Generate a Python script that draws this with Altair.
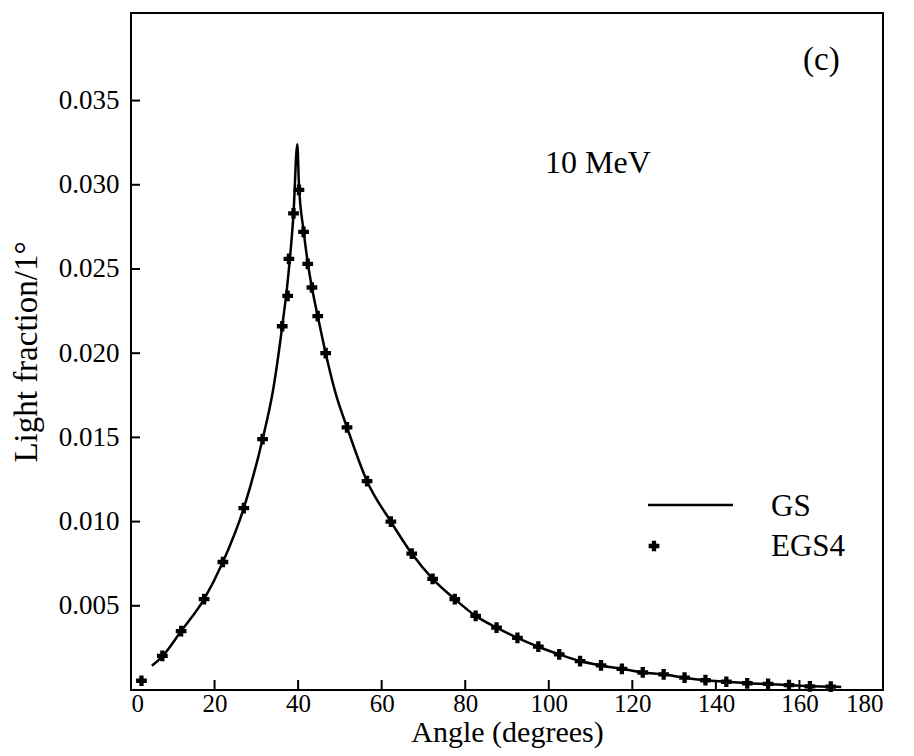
import altair as alt
import pandas as pd

# ---- data ----
x_ticks = [0, 20, 40, 60, 80, 100, 120, 140, 160, 180]
y_ticks = [0.005, 0.010, 0.015, 0.020, 0.025, 0.030, 0.035]

egs_angle = [2.5, 7.5, 12, 17.5, 22, 27, 31.5, 36.2, 37.5, 37.8, 38.9, 40.2, 41.3,
             42.3, 43.3, 44.7, 46.6, 51.7, 56.5, 62.2, 67.2, 72.2, 77.5, 82.5, 87.5,
             92.5, 97.5, 102.5, 107.5, 112.5, 117.5, 122.5, 127.5, 132.5, 137.5,
             142.5, 147.5, 152.5, 157.5, 162.5, 167.5]
egs_value = [0.00055, 0.00203, 0.0035, 0.0054, 0.0076, 0.0108, 0.0149, 0.0216, 0.0234,
             0.0256, 0.0283, 0.0297, 0.0272, 0.0253, 0.0239, 0.0222, 0.0200, 0.0156,
             0.0124, 0.0100, 0.0081, 0.0066, 0.0054, 0.0044, 0.0037, 0.0031, 0.00257,
             0.00212, 0.00172, 0.00146, 0.00126, 0.00104, 0.00093, 0.00073, 0.00058,
             0.00049, 0.00040, 0.00036, 0.00029, 0.00022, 0.00020]

gs_angle = [5, 7.5, 12, 17.5, 22, 27, 31.5, 34, 36.2, 37.6, 38.9, 39.8, 40.2, 41.3,
            42.3, 43.3, 44.7, 46.6, 49, 51.7, 56.5, 62.2, 67.2, 72.2, 77.5, 82.5, 87.5,
            92.5, 97.5, 102.5, 107.5, 112.5, 117.5, 122.5, 127.5, 132.5, 137.5, 142.5,
            147.5, 152.5, 157.5, 162.5, 167.5, 170]
gs_value = [0.00144, 0.0020, 0.0035, 0.0054, 0.0076, 0.0108, 0.0149, 0.0178, 0.0216,
            0.0245, 0.0283, 0.0324, 0.0300, 0.0273, 0.0254, 0.0239, 0.0222, 0.0200,
            0.0176, 0.0156, 0.0124, 0.0100, 0.0081, 0.0066, 0.0054, 0.0044, 0.0037,
            0.0031, 0.00257, 0.00212, 0.00172, 0.00146, 0.00126, 0.00104, 0.00093,
            0.00073, 0.00058, 0.00049, 0.00040, 0.00036, 0.00029, 0.00022, 0.00020,
            0.00018]

x_minor = x_ticks[1:-1]
y_minor = y_ticks

W, H = 752, 677
FONT = "Liberation Serif"

df_gs = pd.DataFrame({"angle": gs_angle, "value": gs_value})
df_egs = pd.DataFrame({"angle": egs_angle, "value": egs_value})
df_xt = pd.DataFrame({"angle": x_minor})
df_yt = pd.DataFrame({"value": y_minor})

xscale = alt.Scale(domain=[0, 180], nice=False, zero=False)
yscale = alt.Scale(domain=[0, 0.0402], nice=False, zero=False)

xaxis = alt.Axis(values=x_ticks, format="d", title="Angle (degrees)", ticks=False,
                 domain=False, grid=False, labelFont=FONT, labelFontSize=25,
                 labelPadding=1, labelColor="black", titleFont=FONT, titleFontSize=30,
                 titleFontWeight="normal", titleColor="black", titleY=42,
                 titleBaseline="middle")
yaxis = alt.Axis(values=y_ticks, format=".3f", title="Light fraction/1°", ticks=False,
                 domain=False, grid=False, labelFont=FONT, labelFontSize=27,
                 labelPadding=12, labelColor="black", titleFont=FONT, titleFontSize=33,
                 titleFontWeight="normal", titleColor="black", titleX=-105,
                 titleY=H / 2, titleBaseline="middle", titleAlign="center",
                 titleAngle=270)

X = alt.X("angle:Q", scale=xscale, axis=xaxis)
Y = alt.Y("value:Q", scale=yscale, axis=yaxis)

gs = alt.Chart(df_gs).mark_line(color="black", strokeWidth=2.5,
                                interpolate="monotone").encode(x=X, y=Y)
egs = alt.Chart(df_egs).mark_point(shape="cross", filled=True, color="black",
                                   size=115, opacity=1).encode(x=X, y=Y)

xt = alt.Chart(df_xt).mark_rule(color="black", strokeWidth=2).encode(
    x=X, y=alt.value(H), y2=alt.value(H - 10))
yt = alt.Chart(df_yt).mark_rule(color="black", strokeWidth=2).encode(
    y=Y, x=alt.value(0), x2=alt.value(9))

t_mev = alt.Chart(pd.DataFrame({"t": ["10 MeV"]})).mark_text(
    font=FONT, fontSize=32, align="left", baseline="middle", color="black").encode(
    x=alt.value(414), y=alt.value(150), text="t:N")
t_c = alt.Chart(pd.DataFrame({"t": ["(c)"]})).mark_text(
    font=FONT, fontSize=33, align="left", baseline="middle", color="black").encode(
    x=alt.value(672), y=alt.value(47), text="t:N")
t_gs = alt.Chart(pd.DataFrame({"t": ["GS"]})).mark_text(
    font=FONT, fontSize=31, align="left", baseline="middle", color="black").encode(
    x=alt.value(640), y=alt.value(494), text="t:N")
t_egs = alt.Chart(pd.DataFrame({"t": ["EGS4"]})).mark_text(
    font=FONT, fontSize=31, align="left", baseline="middle", color="black").encode(
    x=alt.value(640), y=alt.value(534), text="t:N")
leg_line = alt.Chart(pd.DataFrame({"t": ["GS"]})).mark_rule(
    color="black", strokeWidth=2.5).encode(
    x=alt.value(517), x2=alt.value(602), y=alt.value(492))
leg_pt = alt.Chart(pd.DataFrame({"t": ["EGS4"]})).mark_point(
    shape="cross", filled=True, color="black", size=115, opacity=1).encode(
    x=alt.value(523), y=alt.value(533))

chart = alt.layer(gs, egs, xt, yt, t_mev, t_c, t_gs, t_egs, leg_line, leg_pt).properties(
    width=W, height=H, autosize="none",
    padding={"left": 123, "top": 5, "right": 20, "bottom": 62},
    background="white",
).configure_view(stroke="black", strokeWidth=2)

chart.save("out.html", embed_options={"renderer": "svg", "actions": False})
